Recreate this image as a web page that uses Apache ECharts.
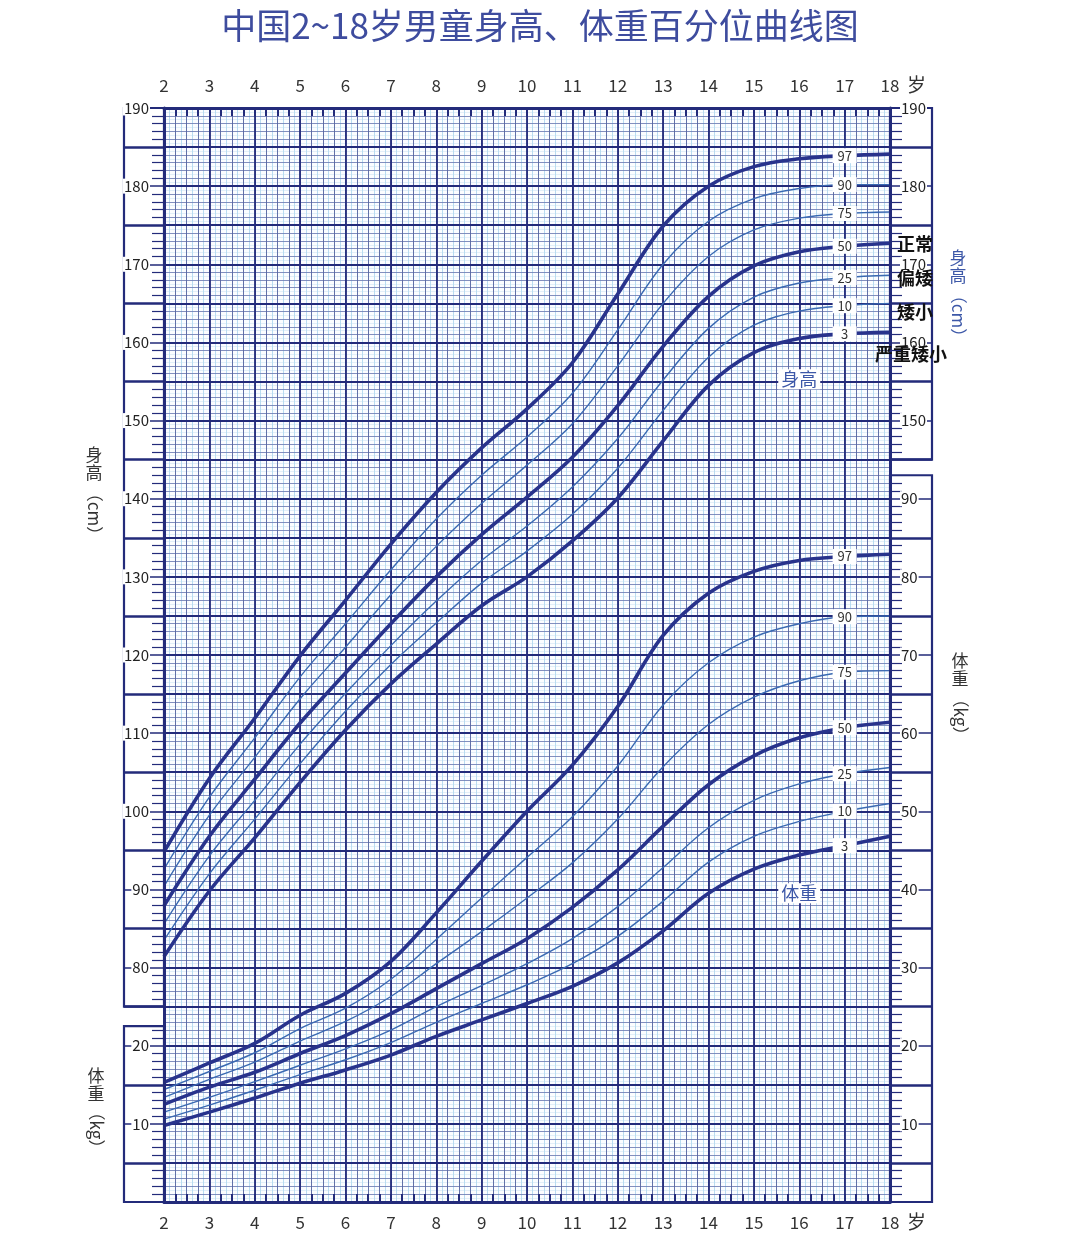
<!DOCTYPE html>
<html>
<head>
<meta charset="utf-8">
<title>中国2~18岁男童身高、体重百分位曲线图</title>
<script src="https://cdn.jsdelivr.net/npm/echarts@6.0.0/dist/echarts.min.js"></script>
<style>
html,body{margin:0;padding:0;background:#ffffff;}
#chart{width:1080px;height:1242px;}
</style>
</head>
<body>
<div id="chart"></div>
<script>
// ---------------- data ----------------
const ages = [2,3,4,5,6,7,8,9,10,11,12,13,14,15,16,17,18];
const ageTickLabels = ['2','3','4','5','6','7','8','9','10','11','12','13','14','15','16','17','18'];
const labelAge = 17;

// height (cm)
const heightP3  = [81.4, 89.8, 96.6,103.7,110.4,116.3,121.4,126.3,130.0,134.6,140.1,147.4,154.5,158.7,160.5,161.1,161.3];
const heightP10 = [83.5, 92.0, 99.0,106.1,112.8,118.8,124.1,129.2,133.3,138.0,143.9,151.3,158.1,162.2,164.0,164.7,165.0];
const heightP25 = [85.6, 94.3,101.4,108.6,115.1,121.2,126.9,132.1,136.5,141.5,147.7,155.2,161.8,165.8,167.6,168.3,168.6];
const heightP50 = [87.9, 96.8,104.1,111.3,117.7,124.0,130.0,135.4,140.2,145.3,151.9,159.5,165.9,169.8,171.6,172.3,172.7];
const heightP75 = [90.4, 99.5,106.9,114.4,121.0,127.7,133.9,139.4,144.3,149.6,157.0,165.0,171.0,174.4,175.9,176.5,176.7];
const heightP90 = [92.6,101.8,109.4,117.2,124.0,130.9,137.4,143.0,147.9,153.5,161.6,170.0,175.5,178.4,179.7,180.2,180.2];
const heightP97 = [94.8,104.2,111.9,119.9,127.0,134.2,140.8,146.5,151.5,157.4,166.2,174.9,180.0,182.5,183.5,183.9,184.1];

// weight (kg)
const weightP3  = [ 9.8,11.5,13.3,15.2,16.9,18.8,21.2,23.3,25.4,27.6,30.6,34.7,39.5,42.6,44.4,45.6,46.8];
const weightP10 = [10.6,12.4,14.3,16.3,18.2,20.4,23.0,25.4,27.8,30.5,34.0,38.5,43.5,46.8,48.7,50.0,51.0];
const weightP25 = [11.5,13.4,15.4,17.5,19.6,22.0,25.0,27.7,30.5,33.7,37.8,42.8,47.9,51.4,53.5,54.8,55.6];
const weightP50 = [12.5,14.7,16.6,19.0,21.3,24.1,27.3,30.5,33.7,37.7,42.5,48.1,53.4,57.1,59.4,60.7,61.4];
const weightP75 = [13.4,15.7,17.9,20.6,23.1,26.3,30.5,34.6,38.9,43.4,49.0,55.7,61.1,64.6,66.7,67.8,68.0];
const weightP90 = [14.4,16.7,19.1,22.2,24.8,28.5,33.6,38.9,44.1,49.3,55.8,63.6,69.0,72.3,74.0,74.9,75.0];
const weightP97 = [15.3,17.8,20.3,23.9,26.7,30.8,37.0,43.6,50.0,55.9,63.4,72.5,77.9,80.7,82.1,82.6,82.9];

// tick labels
const leftHeightLabels  = [80,90,100,110,120,130,140,150,160,170,180,190];
const rightHeightLabels = [150,160,170,180,190];
const leftWeightLabels  = [10,20];
const rightWeightLabels = [10,20,30,40,50,60,70,80,90];

// tick ranges (box extents on each side)
const leftHeightRange  = [75,190];
const rightHeightRange = [145,190];
const leftWeightRange  = [0,22.5];
const rightWeightRange = [0,93];

// ---------------- helpers ----------------
function range(a,b,step){const r=[];for(let v=a;v<=b+1e-9;v+=step)r.push(+v.toFixed(3));return r;}
function fives(lo,hi){return range(Math.ceil(lo/5)*5,hi,5).filter(v=>v%10!==0&&v>lo&&v<hi);}
function ones(lo,hi){return range(Math.ceil(lo),Math.floor(hi),1).filter(v=>v%5!==0&&v>lo&&v<hi);}

const FONT = '"Noto Sans CJK SC","Noto Sans",sans-serif';
const NAVY = '#232b7a';
const MID = '#6a76b0';
const THICK_C = '#28338c';
const THIN_C = '#3a69b2';

const xBase = {type:'value', min:2, max:18, gridIndex:0};
const yHBase = {type:'value', min:50, max:190, gridIndex:0};
const yWBase = {type:'value', min:0, max:140, gridIndex:0};
const offAxis = {axisLine:{show:false,onZero:false}, axisTick:{show:false}, axisLabel:{show:false}};

const xAxis = [
  Object.assign({}, xBase, offAxis, {interval:0.125, position:'bottom', z:0,
    splitLine:{show:true, lineStyle:{color:'#b9dcf1', width:1}}}),
  Object.assign({}, xBase, {interval:0.25, position:'top', z:1,
    axisLine:{show:false,onZero:false}, axisLabel:{show:false},
    axisTick:{show:true, inside:true, length:8, lineStyle:{color:NAVY,width:2}},
    splitLine:{show:true, lineStyle:{color:'#58649f', width:0.9}}}),
  Object.assign({}, xBase, {interval:1, position:'top', z:2,
    axisLine:{show:true,onZero:false,lineStyle:{color:NAVY,width:3}},
    axisTick:{show:false},
    axisLabel:{show:true, customValues:ages, formatter:v=>ageTickLabels[ages.indexOf(v)],
      margin:14, fontSize:17, color:'#333', fontFamily:FONT},
    splitLine:{show:true, lineStyle:{color:NAVY, width:1.8}}}),
  Object.assign({}, xBase, {interval:0.25, position:'bottom', z:2,
    axisLine:{show:true,onZero:false,lineStyle:{color:NAVY,width:3}},
    axisTick:{show:true, inside:true, length:8, lineStyle:{color:NAVY,width:2}},
    axisLabel:{show:true, customValues:ages, formatter:v=>ageTickLabels[ages.indexOf(v)],
      margin:12, fontSize:17, color:'#333', fontFamily:FONT},
    splitLine:{show:false}})
];

function gridY(interval, z, lineStyle){
  return Object.assign({}, yHBase, offAxis, {interval, z, position:'left', splitLine:{show:true, lineStyle}});
}
function tickY(base, pos, values, len, width, labels, margin, line){
  return Object.assign({}, base, {position:pos, z:8, splitLine:{show:false},
    axisLine:{show:!!line, onZero:false, lineStyle:{color:NAVY, width:3}},
    axisTick:{show:true, customValues:values, length:len, lineStyle:{color:NAVY, width}},
    axisLabel: labels ? {show:true, customValues:values, margin, fontSize:15, color:'#222',
      fontFamily:FONT, backgroundColor:'#ffffff', padding:[0,1]} : {show:false}
  });
}

const yAxis = [
  gridY(0.5, 0, {color:'#e2eff9', width:1}),
  gridY(1, 1, {color:MID, width:0.8}),
  gridY(5, 2, {color:NAVY, width:2}),
  tickY(yHBase,'left', leftHeightLabels, 40, 1.5, true, 14, true),                 // 3 height data axis
  tickY(yHBase,'left', fives(leftHeightRange[0]-1, leftHeightRange[1]), 40, 2.5),  // 4
  tickY(yHBase,'left', ones(leftHeightRange[0], leftHeightRange[1]), 12, 1.2),     // 5
  tickY(yHBase,'right', rightHeightLabels, 42, 1.5, true, 10, true),               // 6
  tickY(yHBase,'right', fives(rightHeightRange[0]-1, rightHeightRange[1]), 42, 2.5),// 7
  tickY(yHBase,'right', ones(rightHeightRange[0], rightHeightRange[1]), 12, 1.2),  // 8
  tickY(yWBase,'left', leftWeightLabels, 40, 1.5, true, 14),                       // 9
  tickY(yWBase,'left', fives(leftWeightRange[0], leftWeightRange[1]), 40, 2.5),    // 10
  tickY(yWBase,'left', ones(leftWeightRange[0], leftWeightRange[1]), 12, 1.2),     // 11
  tickY(yWBase,'right', rightWeightLabels, 42, 1.5, true, 10),                     // 12 weight data axis
  tickY(yWBase,'right', fives(rightWeightRange[0], rightWeightRange[1]), 42, 2.5), // 13
  tickY(yWBase,'right', ones(rightWeightRange[0], rightWeightRange[1]), 12, 1.2)   // 14
];
const IDX_H = 3, IDX_W = 12, IDX_X = 2;

function curve(name, vals, thick, yIdx){
  const i17 = ages.indexOf(labelAge);
  return {
    type:'line', name: name, xAxisIndex:IDX_X, yAxisIndex:yIdx,
    data: ages.map((a,i)=>[a, vals[i]]),
    smooth:0.35, symbol:'none', z:4, silent:true,
    lineStyle:{color: thick?THICK_C:THIN_C, width: thick?3.6:1.4},
    markPoint:{
      symbol:'rect', symbolSize:[24,15], silent:true,
      itemStyle:{color:'#ffffff', borderWidth:0},
      label:{show:true, position:'inside', color:'#333', fontSize:13, fontFamily:FONT, formatter:name},
      data:[{coord:[labelAge, vals[i17]]}]
    }
  };
}

const series = [
  curve('97', heightP97, true, IDX_H),
  curve('90', heightP90, false, IDX_H),
  curve('75', heightP75, false, IDX_H),
  curve('50', heightP50, true, IDX_H),
  curve('25', heightP25, false, IDX_H),
  curve('10', heightP10, false, IDX_H),
  curve('3',  heightP3,  true, IDX_H),
  curve('97', weightP97, true, IDX_W),
  curve('90', weightP90, false, IDX_W),
  curve('75', weightP75, false, IDX_W),
  curve('50', weightP50, true, IDX_W),
  curve('25', weightP25, false, IDX_W),
  curve('10', weightP10, false, IDX_W),
  curve('3',  weightP3,  true, IDX_W)
];

const chart = echarts.init(document.getElementById('chart'), null, {renderer:'canvas'});
chart.setOption({
  animation:false,
  backgroundColor:'#ffffff',
  title:{text:'中国2~18岁男童身高、体重百分位曲线图', left:'center', top:3,
    textStyle:{fontSize:35, color:'#3e4c9e', fontWeight:'normal', fontFamily:FONT}},
  grid:{left:164, right:190, top:108, bottom:40, show:true, backgroundColor:'#fbfdff', borderWidth:0},
  xAxis, yAxis, series
});

// ---------------- decorations positioned from the axes ----------------
const pyH = v => chart.convertToPixel({yAxisIndex:IDX_H}, v);
const pyW = v => chart.convertToPixel({yAxisIndex:IDX_W}, v);
const px = v => chart.convertToPixel({xAxisIndex:IDX_X}, v);
const xL = px(2), xR = px(18);
function box(x1,y1,x2,y2){
  return {type:'rect', z:1, silent:true, shape:{x:x1, y:y1, width:x2-x1, height:y2-y1},
    style:{fill:null, stroke:NAVY, lineWidth:2.2}};
}
function txt(x,y,text,opt){
  return Object.assign({type:'text', z:20, silent:true, x, y,
    style:Object.assign({text, fontFamily:FONT, fill:'#333', fontSize:17, align:'center', verticalAlign:'middle'}, opt||{})});
}
function vtitle(x, y1, chars, y2, unit, color){
  return [
    txt(x, y1, chars, {fill:color, fontSize:17, lineHeight:18}),
    Object.assign(txt(x, y2, unit, {fill:color, fontSize:17}), {rotation:-Math.PI/2})
  ];
}
const graphic = [
  box(xL-40, pyH(leftHeightRange[1]), xL, pyH(leftHeightRange[0])),
  box(xL-40, pyW(leftWeightRange[1]), xL, pyW(leftWeightRange[0])),
  box(xR, pyH(rightHeightRange[1]), xR+42, pyH(rightHeightRange[0])),
  box(xR, pyW(rightWeightRange[1]), xR+42, pyW(rightWeightRange[0])),
  txt(xR+17, pyH(190)-23, '岁', {fontSize:19, align:'left'}),
  txt(xR+17, pyW(0)+20, '岁', {fontSize:19, align:'left'}),
  ...vtitle(94, 464, '身\n高', 514, '（cm）', '#333'),
  ...vtitle(96, 1085, '体\n重', 1130, '（kg）', '#333'),
  ...vtitle(958, 267, '身\n高', 316, '（cm）', '#3d58a8'),
  ...vtitle(960, 670, '体\n重', 717, '（kg）', '#333'),
  txt(897, 244, '正常', {fontSize:18, fontWeight:'bold', fill:'#111', align:'left'}),
  txt(897, 278, '偏矮', {fontSize:18, fontWeight:'bold', fill:'#111', align:'left'}),
  txt(897, 312, '矮小', {fontSize:18, fontWeight:'bold', fill:'#111', align:'left'}),
  txt(875, 354, '严重矮小', {fontSize:18, fontWeight:'bold', fill:'#111', align:'left'}),
  txt(px(16), pyH(155.3), '身高', {fontSize:18, fill:'#3d58a8', backgroundColor:'#ffffff', padding:[1,3]}),
  txt(px(16), pyW(39.5), '体重', {fontSize:18, fill:'#3d58a8', backgroundColor:'#ffffff', padding:[1,3]})
];
chart.setOption({graphic});
</script>
</body>
</html>
